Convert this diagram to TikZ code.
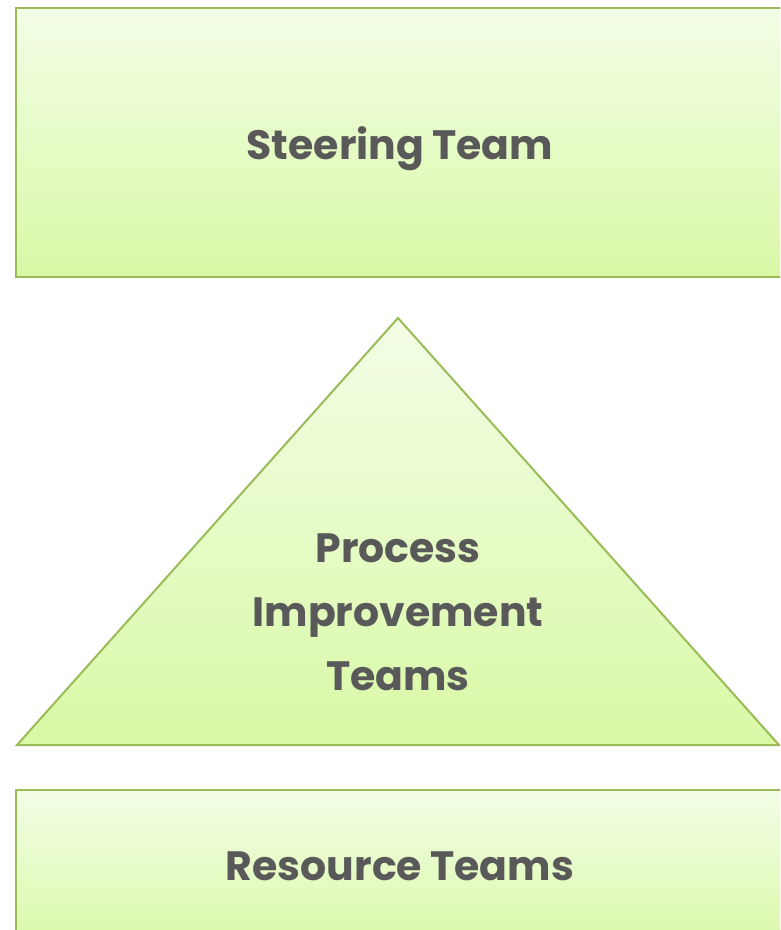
\documentclass[tikz,border=0pt]{standalone}
\usepackage{fontspec}
\setmainfont{Poppins}
\definecolor{edge}{HTML}{9BBB59}
\definecolor{topc}{HTML}{F3FDE6}
\definecolor{botc}{HTML}{D9F9A6}
\definecolor{txt}{HTML}{595959}
\tikzset{
  panel/.style={draw=edge, line width=2pt, top color=topc, bottom color=botc, shading angle=0},
  lbl/.style={text=txt, font=\fontsize{41}{64}\selectfont\bfseries, align=center}
}
\begin{document}
\begin{tikzpicture}[x=1pt,y=-1pt]
\useasboundingbox (0,0) rectangle (780,930);
\clip (0,0) rectangle (780,930);
\path[panel] (16,8) rectangle (800,277);
\node[lbl] (steer) at (400,149) {Steering\hspace{0.2em}Team};
\path[panel] (398,318) -- (17,745) -- (779,745) -- cycle;
\node[lbl] (proc) at (398,612) {Process\\Improvement\\Teams};
\path[panel] (16,790) rectangle (800,950);
\node[lbl] (res) at (400,866) {Resource\hspace{0.2em}Teams};
\end{tikzpicture}
\end{document}
